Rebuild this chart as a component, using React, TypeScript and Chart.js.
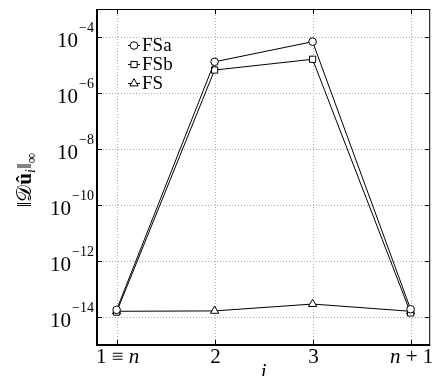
import React, { useEffect, useRef } from 'react';
import { Chart, registerables } from 'chart.js';
import { drawPoint } from 'chart.js/helpers';

Chart.register(...registerables);

// ---- data ----
const X_VALUES = [1, 2, 3, 4];
const X_TICK_LABELS = ['1 ≡ n', '2', '3', 'n + 1'];
const Y_TICKS = [1e-14, 1e-12, 1e-10, 1e-8, 1e-6, 1e-4];
const SERIES_LABELS = ['FSa', 'FSb', 'FS'];
const FSA = [1.8e-14, 1.3e-5, 6.8e-5, 1.9e-14];
const FSB = [1.5e-14, 6.6e-6, 1.6e-5, 1.4e-14];
const FS = [1.6e-14, 1.65e-14, 2.9e-14, 1.6e-14];
const X_TITLE = 'i';

const SERIF = '"Liberation Serif", "Times New Roman", Times, serif';

const POINT_STYLES = ['circle', 'rect', 'triangle'];
const POINT_RADII = [3.8, 4.4, 4.8];

function drawMixed(ctx: CanvasRenderingContext2D, text: string, cx: number, baseline: number, size: number) {
  const parts = text.split('').map((ch) => ({
    ch,
    font: /[a-z]/.test(ch) ? `italic ${size}px ${SERIF}` : `${size}px ${SERIF}`,
  }));
  let total = 0;
  const widths = parts.map((p) => {
    ctx.font = p.font;
    const w = ctx.measureText(p.ch).width;
    total += w;
    return w;
  });
  let x = cx - total / 2;
  ctx.textAlign = 'left';
  ctx.textBaseline = 'alphabetic';
  parts.forEach((p, i) => {
    ctx.font = p.font;
    ctx.fillText(p.ch, x, baseline);
    x += widths[i];
  });
}

const decorPlugin = {
  id: 'decor',
  beforeDatasetsDraw(chart: any) {
    const { ctx, chartArea } = chart;
    const { left, right, top, bottom } = chartArea;
    const xs = chart.scales.x;
    const ys = chart.scales.y;
    ctx.save();
    ctx.strokeStyle = '#aaaaaa';
    ctx.lineWidth = 1;
    ctx.setLineDash([1, 2]);
    xs.ticks.forEach((t: any) => {
      const px = Math.round(xs.getPixelForValue(t.value)) + 0.5;
      ctx.beginPath();
      ctx.moveTo(px, top);
      ctx.lineTo(px, bottom);
      ctx.stroke();
    });
    ys.ticks.forEach((t: any) => {
      const py = Math.round(ys.getPixelForValue(t.value)) + 0.5;
      ctx.beginPath();
      ctx.moveTo(left, py);
      ctx.lineTo(right, py);
      ctx.stroke();
    });
    ctx.restore();
  },
  afterDatasetsDraw(chart: any) {
    const { ctx, chartArea } = chart;
    const { left, right, top, bottom } = chartArea;
    const xs = chart.scales.x;
    const ys = chart.scales.y;
    ctx.save();
    ctx.setLineDash([]);
    ctx.fillStyle = '#000';
    ctx.strokeStyle = '#000';
    // frame
    ctx.fillRect(left - 1, top, 2, bottom - top + 1);
    ctx.fillRect(left - 1, bottom - 1, right - left + 1, 2);
    ctx.fillRect(left, top, right - left, 1);
    ctx.fillRect(right - 1, top, 1, bottom - top);
    // tick marks inward
    const TL = 4;
    xs.ticks.forEach((t: any) => {
      const px = Math.round(xs.getPixelForValue(t.value));
      ctx.fillRect(px, bottom - 1 - TL, 1, TL);
      ctx.fillRect(px, top + 1, 1, TL);
    });
    ys.ticks.forEach((t: any) => {
      const py = Math.round(ys.getPixelForValue(t.value));
      ctx.fillRect(left + 1, py, TL, 1);
      ctx.fillRect(right - 1 - TL, py, TL, 1);
    });
    // y tick labels 10^e
    ys.ticks.forEach((t: any) => {
      const py = ys.getPixelForValue(t.value);
      const e = Math.round(Math.log10(t.value));
      const expStr = (e < 0 ? '\u2212' : '') + String(Math.abs(e));
      ctx.textBaseline = 'alphabetic';
      ctx.textAlign = 'right';
      ctx.font = `14px ${SERIF}`;
      const expRight = left - 3;
      ctx.fillText(expStr, expRight, py - 5);
      const ew = ctx.measureText(expStr).width;
      ctx.font = `21px ${SERIF}`;
      ctx.fillText('10', expRight - ew - 1, py + 10);
    });
    // x tick labels
    xs.ticks.forEach((t: any, i: number) => {
      const px = xs.getPixelForValue(t.value);
      drawMixed(ctx, X_TICK_LABELS[i], px + 1, 363, 21);
    });
    // x title
    ctx.font = `italic 21px ${SERIF}`;
    ctx.textAlign = 'center';
    ctx.fillText(X_TITLE, (left + right) / 2, 378);
    // y title
    ctx.save();
    ctx.translate(31, (top + bottom) / 2 + 3);
    ctx.rotate(-Math.PI / 2);
    const segs = [
      { t: '\u2016', f: `21px ${SERIF}`, dy: 0 },
      { t: '\u{1D49F}', f: `21px ${SERIF}`, dy: 0 },
      { t: 'û', f: `bold 21px ${SERIF}`, dy: 0 },
      { t: 'i', f: `italic 14px ${SERIF}`, dy: 4 },
      { t: '\u2016', f: `21px ${SERIF}`, dy: 0 },
      { t: '∞', f: `15px ${SERIF}`, dy: 5 },
    ];
    let tot = 0;
    const ws = segs.map((s) => {
      ctx.font = s.f;
      const w = ctx.measureText(s.t).width;
      tot += w;
      return w;
    });
    let sx = -tot / 2;
    ctx.textAlign = 'left';
    segs.forEach((s, i) => {
      ctx.font = s.f;
      ctx.fillText(s.t, sx, s.dy);
      sx += ws[i];
    });
    ctx.restore();
    // legend
    chart.data.datasets.forEach((ds: any, i: number) => {
      const cy = top + 36 + i * 19;
      const lx = left + 31;
      ctx.strokeStyle = '#000';
      ctx.lineWidth = 1;
      ctx.beginPath();
      ctx.moveTo(lx, cy + 0.5);
      ctx.lineTo(lx + 12, cy + 0.5);
      ctx.stroke();
      ctx.fillStyle = '#fff';
      drawPoint(ctx, { pointStyle: POINT_STYLES[i], radius: POINT_RADII[i], borderWidth: 1, rotation: 0 } as any, lx + 6, cy + 0.5);
      ctx.fillStyle = '#000';
      ctx.font = `19px ${SERIF}`;
      ctx.textAlign = 'left';
      ctx.fillText(ds.label, lx + 14, cy + 6);
    });
    ctx.restore();
  },
};

export default function App() {
  const ref = useRef<HTMLCanvasElement | null>(null);
  useEffect(() => {
    if (!ref.current) return;
    const seriesVals = [FSA, FSB, FS];
    const chart = new Chart(ref.current, {
      type: 'line',
      data: {
        datasets: seriesVals.map((vals, i) => ({
          label: SERIES_LABELS[i],
          data: X_VALUES.map((x, j) => ({ x, y: vals[j] })),
          borderColor: '#000',
          borderWidth: 1,
          backgroundColor: '#fff',
          pointBackgroundColor: '#fff',
          pointBorderColor: '#000',
          pointBorderWidth: 1,
          pointStyle: POINT_STYLES[i] as any,
          pointRadius: POINT_RADII[i],
          tension: 0,
          clip: false as any,
        })),
      },
      options: {
        animation: false,
        responsive: true,
        maintainAspectRatio: false,
        layout: { padding: { top: 9, right: 2, left: 0, bottom: 0 } },
        plugins: { legend: { display: false }, tooltip: { enabled: false } },
        scales: {
          x: {
            type: 'linear',
            min: 0.8,
            max: 4.2,
            grid: { display: false },
            border: { display: false },
            ticks: { display: false },
            afterBuildTicks: (s: any) => {
              s.ticks = X_VALUES.map((v) => ({ value: v }));
            },
            afterFit: (s: any) => {
              s.height = 31;
            },
          },
          y: {
            type: 'logarithmic',
            min: 1e-15,
            max: 1e-3,
            grid: { display: false },
            border: { display: false },
            ticks: { display: false },
            afterBuildTicks: (s: any) => {
              s.ticks = Y_TICKS.map((v) => ({ value: v }));
            },
            afterFit: (s: any) => {
              s.width = 97;
            },
          },
        },
      },
      plugins: [decorPlugin],
    });
    return () => chart.destroy();
  }, []);
  return (
    <div style={{ position: 'fixed', left: 0, top: 0, width: 436, height: 376, background: '#fff' }}>
      <canvas ref={ref} />
    </div>
  );
}
